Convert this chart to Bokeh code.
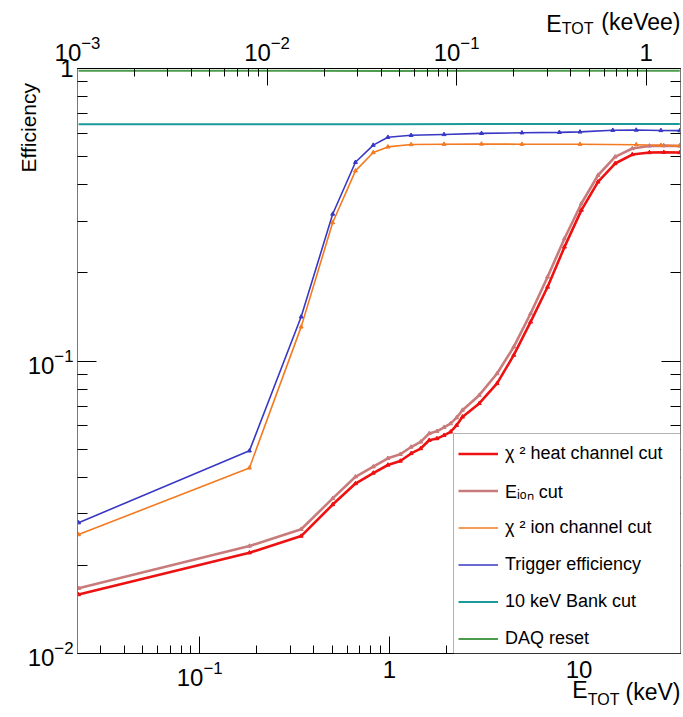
from bokeh.plotting import figure
from bokeh.models import (LogAxis, Range1d, LogScale, FixedTicker, LogTickFormatter,
                          Label, Legend, LegendItem, BoxAnnotation, Title)
from bokeh.embed import file_html
from bokeh.resources import INLINE

FONT = "Liberation Sans"

# ---------------- data ----------------
kev_range = (0.0227, 34.3)          # bottom axis, E_TOT (keV)
keVee_range = (0.001, 1.518)        # top axis, E_TOT (keVee)
eff_range = (0.01, 1.0)

x_major = [0.01, 0.1, 1, 10, 100]
x_top_major = [0.001, 0.01, 0.1, 1, 10]
y_major = [0.01, 0.1, 1]

daq_x = [0.023, 0.3, 1.0, 3.0, 10.0, 34.0]
daq_y = [0.982, 0.982, 0.981, 0.982, 0.982, 0.982]

bank_x = [0.023, 0.3, 1.0, 3.0, 10.0, 20.0, 34.0]
bank_y = [0.645, 0.645, 0.645, 0.646, 0.646, 0.646, 0.646]

trig_x = [0.023, 0.183, 0.343, 0.503, 0.663, 0.823, 0.983, 1.303, 1.943,
          3.063, 5.003, 7.883, 10.12, 15.08, 20.04, 27.04, 34.0]
trig_y = [0.0280, 0.0493, 0.1416, 0.318, 0.478, 0.547, 0.582, 0.591, 0.595,
          0.600, 0.603, 0.605, 0.607, 0.615, 0.616, 0.614, 0.613]

ion_x = [0.023, 0.183, 0.343, 0.503, 0.663, 0.823, 0.983, 1.303, 1.943,
         3.063, 5.003, 10.12, 20.04, 27.04, 34.0]
ion_y = [0.0255, 0.0431, 0.1308, 0.2975, 0.4467, 0.516, 0.5395, 0.5496, 0.551,
         0.552, 0.551, 0.551, 0.549, 0.546, 0.545]

eion_x = [0.023, 0.183, 0.343, 0.503, 0.663, 0.823, 0.983, 1.143, 1.303, 1.463,
          1.623, 1.783, 1.943, 2.103, 2.263, 2.43, 2.98, 3.70, 4.53, 5.56,
          6.83, 8.39, 10.3, 12.6, 15.5, 19.1, 23.5, 28.0, 34.0]
eion_y = [0.0167, 0.0233, 0.0266, 0.0339, 0.0402, 0.0435, 0.0465, 0.0480, 0.0508, 0.0529,
          0.0565, 0.0575, 0.0593, 0.0611, 0.0640, 0.0679, 0.0764, 0.0906, 0.1117, 0.1453,
          0.1938, 0.2623, 0.3455, 0.4316, 0.4985, 0.5327, 0.5436, 0.545, 0.5436]

heat_x = eion_x
heat_y = [0.0159, 0.0221, 0.0252, 0.0323, 0.0381, 0.0414, 0.0441, 0.0455, 0.0483, 0.0502,
          0.0536, 0.0543, 0.0557, 0.0572, 0.0603, 0.0644, 0.0716, 0.0838, 0.1047, 0.1360,
          0.1790, 0.2455, 0.3280, 0.4095, 0.4733, 0.5080, 0.5160, 0.5170, 0.5160]

labels = ["χ ² heat channel cut", "Eᵢₒₙ cut", "χ ² ion channel cut",
          "Trigger efficiency", "10 keV Bank cut", "DAQ reset"]
colors = ["#ee1111", "#c97b7b", "#f47a22", "#3838c4", "#1c9a9a", "#4c9a4c"]

# ---------------- figure ----------------
p = figure(width=683, height=717, x_axis_type="log", y_axis_type="log",
           x_range=Range1d(*kev_range), y_range=Range1d(*eff_range),
           output_backend="svg", toolbar_location=None,
           min_border_left=77, min_border_right=3, min_border_top=68, min_border_bottom=64,
           background_fill_color="white", border_fill_color="white")
p.grid.visible = False
p.outline_line_color = "black"
p.extra_x_ranges = {"top": Range1d(*keVee_range)}
p.extra_x_scales = {"top": LogScale()}


def minors(decades):
    return [m * 10.0 ** e for e in decades for m in range(2, 10)]


def style_axis(ax, tin, min_in, size, standoff, overrides):
    ax.axis_line_color = "black"
    ax.major_tick_line_color = "black"
    ax.minor_tick_line_color = "black"
    ax.major_tick_out = 0
    ax.minor_tick_out = 0
    ax.major_tick_in = tin
    ax.minor_tick_in = min_in
    ax.major_label_text_font = FONT
    ax.major_label_text_font_size = size
    ax.major_label_text_color = "black"
    ax.major_label_standoff = standoff
    ax.formatter = LogTickFormatter()
    ax.major_label_overrides = overrides


bottom = p.below[0]
bottom.ticker = FixedTicker(ticks=x_major, minor_ticks=minors([-2, -1, 0, 1]))
style_axis(bottom, 17, 8, "24px", 7, {1: "1", 10: "10"})

left = p.left[0]
left.ticker = FixedTicker(ticks=y_major, minor_ticks=minors([-2, -1]))
style_axis(left, 19, 10, "24px", 4, {1: "1"})
left.axis_line_color = "#777777"

top = LogAxis(x_range_name="top")
top.ticker = FixedTicker(ticks=x_top_major, minor_ticks=minors([-3, -2, -1, 0]))
style_axis(top, 17, 8, "24px", 8, {1: "1"})
p.add_layout(top, "above")

right = LogAxis()
right.ticker = FixedTicker(ticks=y_major, minor_ticks=minors([-2, -1]))
style_axis(right, 19, 10, "1px", 0, {})
right.major_label_text_alpha = 0.0
right.axis_line_color = "#777777"
p.add_layout(right, "right")

# ---------------- series ----------------
series = [(heat_x, heat_y, 2.6), (eion_x, eion_y, 2.6), (ion_x, ion_y, 1.6),
          (trig_x, trig_y, 1.6), (bank_x, bank_y, 2.0), (daq_x, daq_y, 2.0)]
renderers = []
for (xs, ys, lw), col in zip(series, colors):
    r = p.line(xs, ys, line_color=col, line_width=lw)
    renderers.append(r)
for (xs, ys, lw), col in list(zip(series, colors))[:4]:
    p.scatter(xs, ys, marker="triangle", size=4, fill_color=col, line_color=col)

# ---------------- legend ----------------
p.add_layout(BoxAnnotation(left=376, right=603, bottom=0, top=220,
                           left_units="screen", right_units="screen",
                           bottom_units="screen", top_units="screen",
                           fill_color="white", fill_alpha=1.0,
                           line_color="black", line_width=1))
legend = Legend(items=[LegendItem(label=l, renderers=[r]) for l, r in zip(labels, renderers)],
                location=(381, 0), orientation="vertical",
                label_text_font=FONT, label_text_font_size="18px", label_text_color="black",
                glyph_width=40, glyph_height=29, label_height=29, spacing=8,
                padding=3, margin=0, label_standoff=7,
                background_fill_alpha=0.0, border_line_color=None)
p.add_layout(legend)

# ---------------- axis titles ----------------
# y title: label in the left side panel, absolute canvas coordinates
p.add_layout(Label(x=28, y=172, x_units="canvas", y_units="canvas", text="Efficiency",
                   text_font=FONT, text_font_size="21px", text_color="black",
                   text_align="left", text_baseline="alphabetic", angle=1.5708), "left")


def title_piece(text, size, offset, standoff, place):
    p.add_layout(Title(text=text, align="right", vertical_align="middle",
                       offset=offset, standoff=standoff,
                       text_font=FONT, text_font_size=f"{size}px",
                       text_font_style="normal", text_color="black"), place)


# top title  E_TOT (keVee)   (pieces stacked outward from the top axis)
title_piece("TOT", 16, 87, -11, "above")
title_piece("E", 23, 119, -26, "above")
title_piece("(keVee)", 23, 0, -26, "above")

# bottom title  E_TOT (keV)
title_piece("E", 23, 93, -26, "below")
title_piece("(keV)", 23, 0, -26, "below")
title_piece("TOT", 16, 61, -6, "below")

open("out.html", "w").write(file_html(p, INLINE))
